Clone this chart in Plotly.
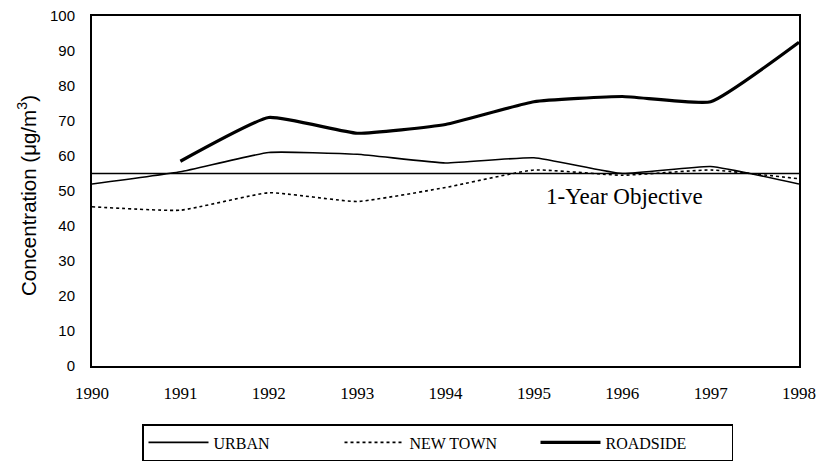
import plotly.graph_objects as go

years = [1990, 1991, 1992, 1993, 1994, 1995, 1996, 1997, 1998]
urban = [52, 55.5, 61, 60.5, 58, 59.5, 55, 57, 52]
new_town = [45.5, 44.5, 49.5, 47, 51, 56, 54.5, 56, 53.5]
roadside_years = [1991, 1992, 1993, 1994, 1995, 1996, 1997, 1998]
roadside = [58.5, 71, 66.5, 69, 75.5, 77, 75.5, 92.5]
objective = 55
yticks = [0, 10, 20, 30, 40, 50, 60, 70, 80, 90, 100]

fig = go.Figure()
fig.add_trace(go.Scatter(x=years, y=urban, mode="lines", name="URBAN",
                         line=dict(color="black", width=1.6, shape="spline", smoothing=0.4)))
fig.add_trace(go.Scatter(x=years, y=new_town, mode="lines", name="NEW TOWN",
                         line=dict(color="black", width=1.6, dash="dot", shape="spline", smoothing=0.4)))
fig.add_trace(go.Scatter(x=roadside_years, y=roadside, mode="lines", name="ROADSIDE",
                         line=dict(color="black", width=3.2, shape="spline", smoothing=0.4)))
fig.add_trace(go.Scatter(x=[years[0], years[-1]], y=[objective, objective], mode="lines",
                         showlegend=False, line=dict(color="black", width=1.4)))

fig.add_annotation(x=1996.02, y=48.3, text="1-Year Objective", showarrow=False,
                   xanchor="center", yanchor="middle",
                   font=dict(family="Liberation Serif", size=23, color="black"))

fig.add_annotation(xref="paper", yref="paper", x=(27 - 92) / 707, y=(366 - 196) / 350,
                   text="Concentration (μg/m<sup>3</sup>)", showarrow=False, textangle=-90,
                   xanchor="center", yanchor="middle",
                   font=dict(family="Liberation Sans", size=20.5, color="black"))

fig.update_layout(
    width=819, height=463,
    margin=dict(l=92, r=20, t=16, b=97, autoexpand=False),
    plot_bgcolor="white", paper_bgcolor="white",
    showlegend=True,
    legend=dict(orientation="h", x=(142 - 92) / 707, xanchor="left", y=-(424 - 366) / 350, yanchor="top",
                bordercolor="black", borderwidth=1.5, entrywidth=121, itemwidth=60,
                font=dict(family="Liberation Serif", size=16, color="black"),
                tracegroupgap=0),
)
fig.update_xaxes(range=[1990, 1998], tickvals=years, ticktext=[str(y) for y in years],
                 showgrid=False, zeroline=False, showline=True, linecolor="black", linewidth=2,
                 mirror=True, ticks="", ticklabelstandoff=11, automargin=False,
                 tickfont=dict(family="Liberation Serif", size=17, color="black"))
fig.update_yaxes(range=[0, 100], tickvals=yticks, showgrid=False, zeroline=False,
                 showline=True, linecolor="black", linewidth=2, mirror=True,
                 ticks="", ticklabelstandoff=12,
                 automargin=False,
                 tickfont=dict(family="Liberation Sans", size=15, color="black"))

fig.write_html("out.html", config={"displayModeBar": False},
               post_script="document.body.style.margin='0';document.body.style.overflow='hidden';")
